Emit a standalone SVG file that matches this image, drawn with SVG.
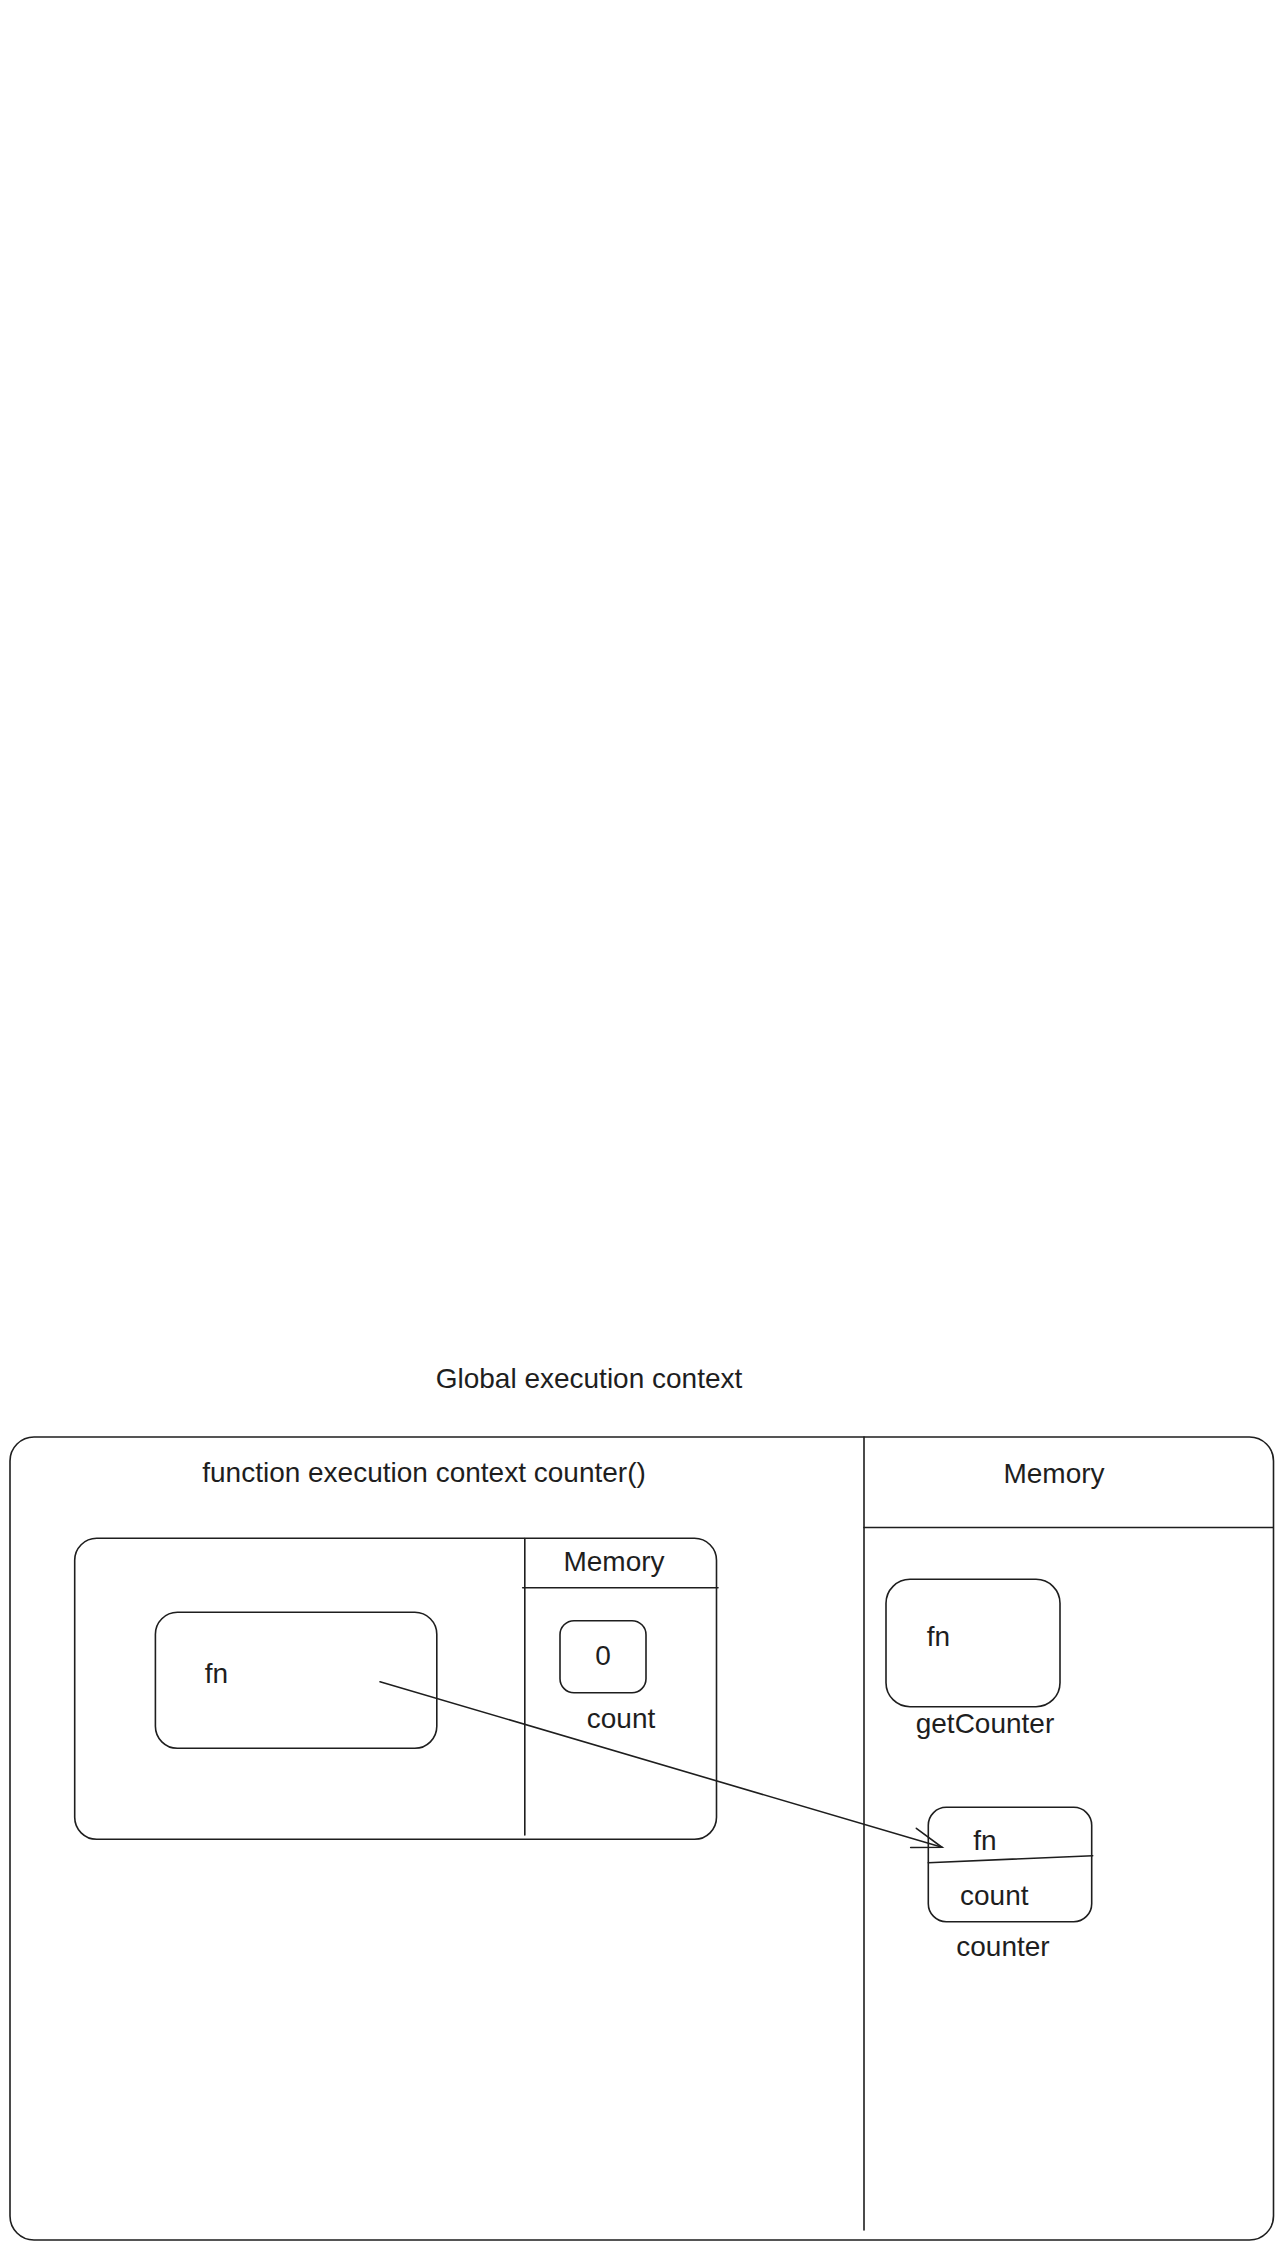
<svg xmlns="http://www.w3.org/2000/svg" width="1284" height="2250" viewBox="0 0 1284 2250">
<style>
.s{fill:none;stroke:#1e1e1e;stroke-width:1.6;stroke-linecap:round;stroke-linejoin:round}
.t{font-family:"Liberation Sans",Arial,sans-serif;font-size:28px;fill:#1e1e1e}
.m{text-anchor:middle}
</style>
<defs>
<marker id="arr" markerUnits="userSpaceOnUse" markerWidth="44" markerHeight="44" viewBox="-36 -22 44 44" refX="0" refY="0" orient="auto">
<path d="M-30,-11 L0,0 L-30,9" fill="none" stroke="#1e1e1e" stroke-width="1.6" stroke-linecap="round"/>
</marker>
</defs>
<rect width="1284" height="2250" fill="#ffffff"/>
<g id="title"><text class="t m" x="589" y="1388">Global execution context</text></g>
<g id="global-context">
<rect class="s" x="10" y="1437" width="1263.5" height="803" rx="24"/>
<line class="s" x1="864" y1="1437" x2="864" y2="2230"/>
<line class="s" x1="864" y1="1527.5" x2="1273" y2="1527.5"/>
<text class="t m" x="424" y="1482">function execution context counter()</text>
<text class="t m" x="1054" y="1483">Memory</text>
</g>
<g id="function-context">
<rect class="s" x="74.7" y="1538.3" width="641.8" height="301" rx="22"/>
<line class="s" x1="524.8" y1="1538.5" x2="524.8" y2="1835"/>
<line class="s" x1="522.7" y1="1587.7" x2="718" y2="1587.7"/>
<text class="t m" x="614" y="1571">Memory</text>
</g>
<g id="inner-fn">
<rect class="s" x="155.4" y="1612.3" width="281.4" height="136" rx="22"/>
<text class="t" x="204.8" y="1683.3">fn</text>
</g>
<g id="count-zero">
<rect class="s" x="560" y="1620.7" width="86" height="72" rx="14"/>
<text class="t m" x="603" y="1665">0</text>
<text class="t m" x="621" y="1728.3">count</text>
</g>
<g id="getCounter">
<rect class="s" x="886" y="1579.3" width="174" height="127.4" rx="24"/>
<text class="t" x="926.7" y="1646">fn</text>
<text class="t m" x="985" y="1733">getCounter</text>
</g>
<g id="counter">
<rect class="s" x="928.3" y="1807.3" width="163.4" height="114.4" rx="18"/>
<line class="s" x1="928.3" y1="1862.7" x2="1092.7" y2="1855.7"/>
<text class="t" x="973.3" y="1850">fn</text>
<text class="t" x="960" y="1905">count</text>
<text class="t m" x="1003" y="1956">counter</text>
</g>
<g id="connectors">
<path class="s" d="M380,1681.7 L942,1847.3" marker-end="url(#arr)"/>
</g>
</svg>
